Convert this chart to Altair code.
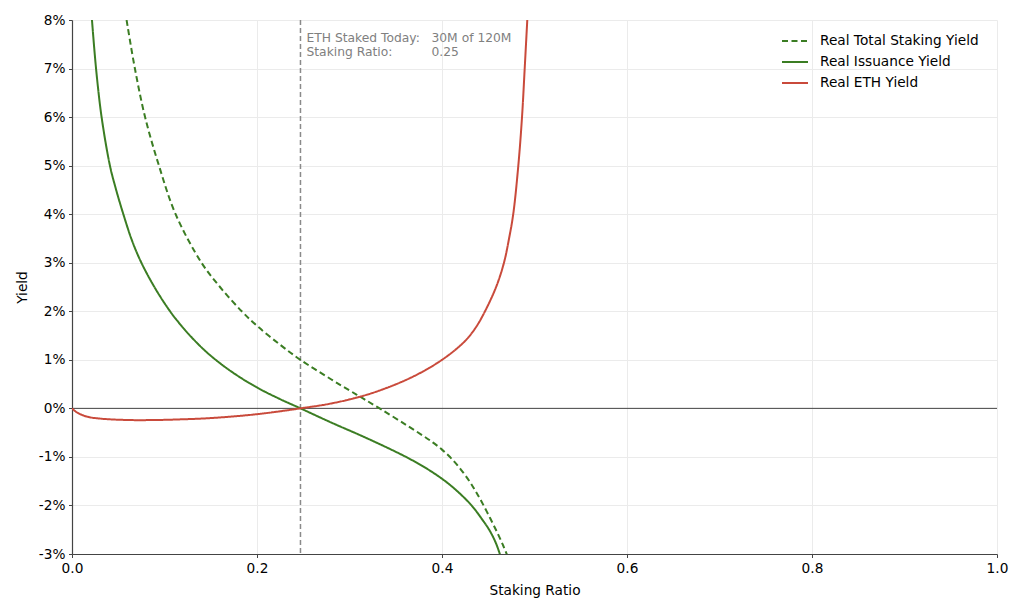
import altair as alt
import pandas as pd

# ---- data ----
series_names = ["Real Total Staking Yield", "Real Issuance Yield", "Real ETH Yield"]
series_colors = ["#3b7d23", "#3b7d23", "#c94a3b"]
series_dashes = [[6, 3.5], [1, 0], [1, 0]]

# Real Total Staking Yield (dashed green), yield in %
x_total = [0.059, 0.068, 0.079, 0.094, 0.112, 0.14, 0.16, 0.1835, 0.2, 0.225, 0.247,
           0.28, 0.3, 0.315, 0.335, 0.362, 0.38, 0.39, 0.4, 0.41, 0.42, 0.43, 0.437,
           0.443, 0.452, 0.46, 0.466, 0.471]
y_total = [8.0, 7.0, 6.0, 5.0, 4.0, 3.0, 2.5, 2.0, 1.70, 1.31, 1.0,
           0.6, 0.37, 0.2, -0.03, -0.35, -0.57, -0.70, -0.85, -1.03, -1.25, -1.51, -1.73,
           -1.93, -2.26, -2.57, -2.82, -3.05]

# Real Issuance Yield (solid green)
x_issuance = [0.0216, 0.026, 0.032, 0.041, 0.047, 0.0555, 0.065, 0.075, 0.09, 0.106,
              0.117, 0.128, 0.142, 0.156, 0.176, 0.2, 0.225, 0.247, 0.28, 0.31, 0.333,
              0.36, 0.38, 0.4, 0.415, 0.432, 0.445, 0.45, 0.455, 0.459, 0.462, 0.4645]
y_issuance = [8.0, 7.0, 6.0, 5.0, 4.55, 4.0, 3.45, 3.0, 2.47, 2.0,
              1.73, 1.49, 1.22, 0.99, 0.71, 0.43, 0.19, 0.0, -0.29, -0.54, -0.74,
              -0.99, -1.2, -1.45, -1.68, -2.0, -2.33, -2.47, -2.64, -2.81, -2.97, -3.12]

# Real ETH Yield (red)
x_eth = [0.0, 0.005, 0.016, 0.03, 0.06, 0.09, 0.12, 0.15, 0.2, 0.247, 0.28, 0.315,
         0.34, 0.365, 0.385, 0.4, 0.415, 0.427, 0.437, 0.4465, 0.4585, 0.467, 0.4725,
         0.477, 0.4825, 0.4865, 0.4894, 0.4922]
y_eth = [0.0, -0.08, -0.17, -0.21, -0.24, -0.24, -0.225, -0.2, -0.12, 0.0, 0.1, 0.26,
         0.42, 0.62, 0.82, 1.0, 1.215, 1.43, 1.68, 2.0, 2.5, 3.0, 3.5,
         4.0, 5.0, 6.0, 7.0, 8.0]

staking_ratio_today = [0.247]
note_labels = ["ETH Staked Today:", "Staking Ratio:"]
note_values = ["30M of 120M", "0.25"]

x_ticks = [0.0, 0.2, 0.4, 0.6, 0.8, 1.0]
y_ticks = [-3, -2, -1, 0, 1, 2, 3, 4, 5, 6, 7, 8]
zero_level = [0]

# ---- build tables ----
rows = []
for name, xs, ys in zip(series_names, [x_total, x_issuance, x_eth], [y_total, y_issuance, y_eth]):
    for i, (a, b) in enumerate(zip(xs, ys)):
        rows.append({"series": name, "x": a, "y": b, "idx": i})
df = pd.DataFrame(rows)

note_df = pd.DataFrame({
    "x": staking_ratio_today,
    "y": [y_ticks[-1]],
    "labels": ["\n".join(note_labels)],
    "values": ["\n".join(note_values)],
})

FONT = "DejaVu Sans"

xscale = alt.Scale(domain=[x_ticks[0], x_ticks[-1]], nice=False, zero=False)
yscale = alt.Scale(domain=[y_ticks[0], y_ticks[-1]], nice=False, zero=False)

legend_opts = dict(title=None, orient="none", legendX=709, legendY=7,
                   symbolType="stroke", symbolSize=676, symbolStrokeWidth=2,
                   labelOffset=11, rowPadding=-5, padding=0)

lines = alt.Chart(df).mark_line(strokeWidth=2, clip=True, interpolate="catmull-rom").encode(
    x=alt.X("x:Q", scale=xscale,
            axis=alt.Axis(values=x_ticks, format=".1f", title="Staking Ratio")),
    y=alt.Y("y:Q", scale=yscale,
            axis=alt.Axis(values=y_ticks, labelExpr="datum.value + '%'", title="Yield")),
    color=alt.Color("series:N", scale=alt.Scale(domain=series_names, range=series_colors),
                    legend=alt.Legend(**legend_opts)),
    strokeDash=alt.StrokeDash("series:N",
                              scale=alt.Scale(domain=series_names, range=series_dashes),
                              legend=alt.Legend(**legend_opts)),
    order="idx:Q",
)

zero_rule = alt.Chart(pd.DataFrame({"y": zero_level})).mark_rule(
    color="#444444", strokeWidth=1
).encode(y=alt.Y("y:Q", scale=yscale))

today_rule = alt.Chart(pd.DataFrame({"x": staking_ratio_today})).mark_rule(
    color="#8a8a8a", strokeWidth=1.5, strokeDash=[5, 3]
).encode(x=alt.X("x:Q", scale=xscale))

note_left = alt.Chart(note_df).mark_text(
    align="left", baseline="alphabetic", dx=6, dy=21.5, lineBreak="\n", lineHeight=14,
    font=FONT, fontSize=12.3, color="#808080"
).encode(x=alt.X("x:Q", scale=xscale), y=alt.Y("y:Q", scale=yscale), text="labels:N")

note_right = alt.Chart(note_df).mark_text(
    align="left", baseline="alphabetic", dx=131, dy=21.5, lineBreak="\n", lineHeight=14,
    font=FONT, fontSize=12.3, color="#808080"
).encode(x=alt.X("x:Q", scale=xscale), y=alt.Y("y:Q", scale=yscale), text="values:N")

chart = alt.layer(zero_rule, today_rule, lines, note_left, note_right).properties(
    width=925, height=534,
    autosize=alt.AutoSizeParams(type="none"),
    padding={"left": 64, "top": 12, "right": 19, "bottom": 52},
).configure_view(
    stroke=None
).configure_axis(
    labelFont=FONT, titleFont=FONT, labelFontSize=13.7, titleFontSize=13.7,
    labelColor="#000000", titleColor="#000000", titleFontWeight="normal",
    gridColor="#ebebeb", gridWidth=1,
    domainColor="#444444", domainWidth=1.2,
    tickColor="#444444", tickSize=3.5, tickWidth=1, labelPadding=3.5,
).configure_axisX(
    titlePadding=9, labelFlush=False,
).configure_axisY(
    titlePadding=9, labelFlush=False,
).configure_legend(
    labelFont=FONT, labelFontSize=13.7, labelColor="#000000",
)

chart.save("out.html", embed_options={"renderer": "svg", "actions": False})
